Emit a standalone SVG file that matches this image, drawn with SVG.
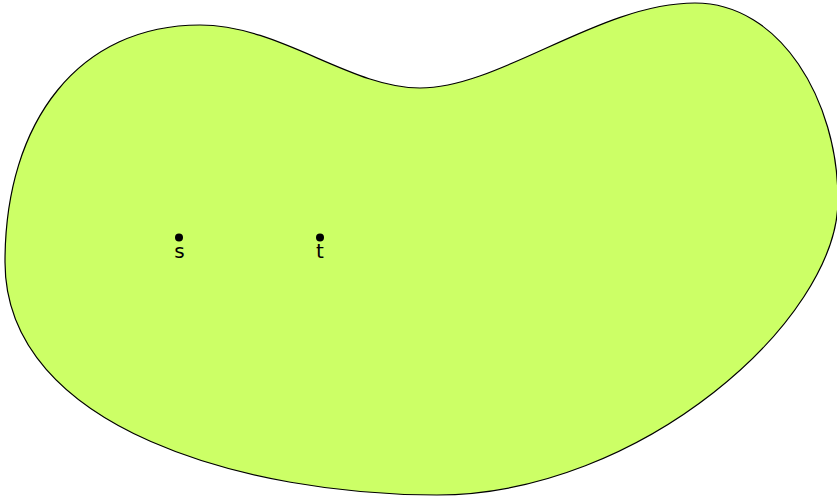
<svg xmlns="http://www.w3.org/2000/svg" width="837" height="497" viewBox="0 0 837 497">
<style>
.blob{fill:#ccff66;stroke:#000;stroke-width:1.2}
.dot{fill:#000}
.lbl{font-family:"DejaVu Sans",sans-serif;font-size:20px;fill:#000;text-anchor:middle}
</style>
<rect width="837" height="497" fill="#fff"/>
<g id="region">
<path class="blob" d="M5,262 C5,120 80,25 200,25 C280,25 350,88 420,88 C500,88 600,3 695,3 C780,3 838,100 838,200 C838,320 640,495 437,495 C250,495 5,430 5,262 Z"/>
</g>
<g id="node-s">
<circle class="dot" cx="179" cy="237.5" r="4"/>
<text class="lbl" x="179.5" y="258">s</text>
</g>
<g id="node-t">
<circle class="dot" cx="320" cy="237.5" r="4"/>
<text class="lbl" x="320" y="258">t</text>
</g>
<g id="connectors"></g>
</svg>
